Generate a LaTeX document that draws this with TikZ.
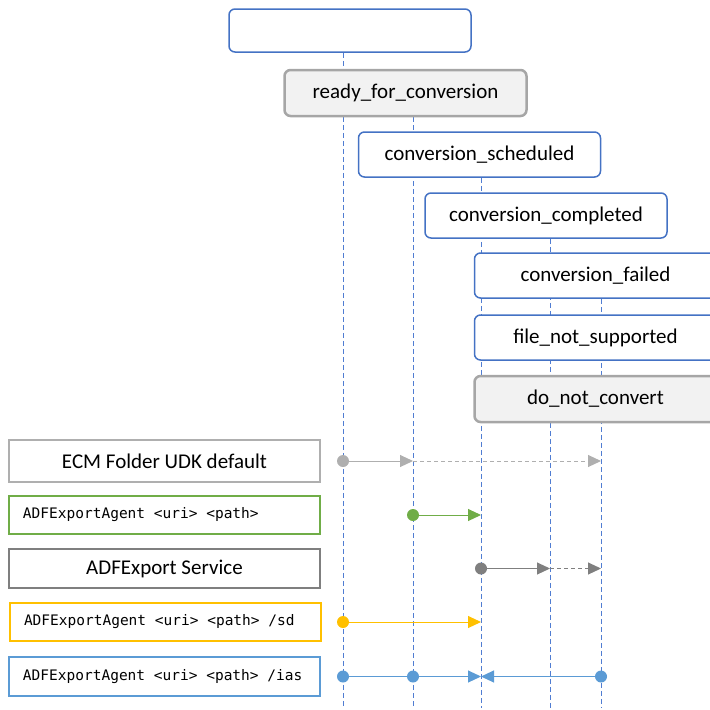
\documentclass[tikz,border=0pt]{standalone}
\usepackage{fontspec}
\setmainfont{Carlito}
\setmonofont{DejaVu Sans Mono}
\usepackage{xcolor}
\definecolor{stblue}{RGB}{68,114,196}
\definecolor{lineblue}{RGB}{80,125,210}
\definecolor{stgray}{RGB}{166,166,166}
\definecolor{stfill}{RGB}{242,242,242}
\definecolor{ecmgray}{RGB}{175,175,175}
\definecolor{svcgray}{RGB}{127,127,127}
\definecolor{agtgreen}{RGB}{112,173,71}
\definecolor{sdyellow}{RGB}{255,192,0}
\definecolor{iasblue}{RGB}{91,155,213}
\usetikzlibrary{arrows.meta, positioning, calc}
\pgfdeclarelayer{background}
\pgfsetlayers{background,main}
\newcommand{\cmdtext}[1]{\makebox[283pt][l]{#1}}

\begin{document}
\begin{tikzpicture}[x=1pt, y=-1pt,
  statebox/.style={draw=stblue, line width=1.5pt, fill=white, rounded corners=6pt,
    minimum width=242pt, minimum height=45pt, inner sep=0pt,
    font=\fontsize{21}{25}\selectfont},
  stategray/.style={statebox, draw=stgray, fill=stfill, line width=2.5pt},
  cmdbox/.style={draw, line width=2.5pt, fill=white, minimum width=311pt,
    minimum height=39pt, inner sep=0pt, font=\fontsize{21}{25}\selectfont},
  monobox/.style={cmdbox, inner xsep=14pt,
    font=\ttfamily\fontsize{14.5}{17}\selectfont},
  lifeline/.style={lineblue, line width=1pt, dash pattern=on 5pt off 3pt},
  msg/.style={line width=1pt, -{Triangle[length=13pt,width=12pt]}},
  msgdash/.style={msg, dash pattern=on 4pt off 3pt}
]
  \clip (0,0) rectangle (710,710);

  % States
  \node[statebox, minimum height=43pt] (top) at (350,30.5) {};
  \node[stategray, minimum height=46pt] (ready) at (405.5,93) {ready\_for\_conversion};
  \node[statebox] (sched) at (479.5,154.5) {conversion\_scheduled};
  \node[statebox] (compl) at (546,215.5) {conversion\_completed};
  \node[statebox] (failed) at (595.5,275.5) {conversion\_failed};
  \node[statebox] (notsup) at (595.5,337.5) {file\_not\_supported};
  \node[stategray, minimum height=46pt] (dnc) at (595.5,399) {do\_not\_convert};

  % Lifelines
  \coordinate (l1) at (343,708);
  \coordinate (l2) at (413,708);
  \coordinate (l3) at (481,708);
  \coordinate (l4) at (550,708);
  \coordinate (l5) at (601,708);
  \begin{pgfonlayer}{background}
    \draw[lifeline] (l1 |- top.south) -- (l1);
    \draw[lifeline] (l2 |- ready.south) -- (l2);
    \draw[lifeline] (l3 |- sched.south) -- (l3);
    \draw[lifeline] (l4 |- compl.south) -- (l4);
    \draw[lifeline] (l5 |- failed.south) -- (l5);
  \end{pgfonlayer}

  % Commands
  \node[cmdbox, draw=ecmgray, minimum height=42pt] (ecm) at (164.5,461) {ECM Folder UDK default};
  \node[monobox, draw=agtgreen, minimum height=38pt] (agent) at (164.5,515) {\cmdtext{ADFExportAgent <uri> <path>}};
  \node[cmdbox, draw=svcgray] (service) at (164.5,568.5) {ADFExport Service};
  \node[monobox, draw=sdyellow, minimum height=38pt] (sd) at (165.5,622) {\cmdtext{ADFExportAgent <uri> <path> /sd}};
  \node[monobox, draw=iasblue] (ias) at (164.5,676.5) {\cmdtext{ADFExportAgent <uri> <path> /ias}};

  % --- ECM Folder UDK default ---
  \draw[msg, ecmgray] (l1 |- ecm.east) -- (l2 |- ecm.east);
  \draw[msgdash, ecmgray] (l2 |- ecm.east) -- (l5 |- ecm.east);
  \fill[ecmgray] (l1 |- ecm.east) circle (6);

  % --- ADFExportAgent ---
  \draw[msg, agtgreen] (l2 |- agent.east) -- (l3 |- agent.east);
  \fill[agtgreen] (l2 |- agent.east) circle (6);

  % --- ADFExport Service ---
  \draw[msg, svcgray] (l3 |- service.east) -- (l4 |- service.east);
  \draw[msgdash, svcgray] (l4 |- service.east) -- (l5 |- service.east);
  \fill[svcgray] (l3 |- service.east) circle (6);

  % --- /sd ---
  \draw[msg, sdyellow] (l1 |- sd.east) -- (l3 |- sd.east);
  \fill[sdyellow] (l1 |- sd.east) circle (6);

  % --- /ias ---
  \draw[msg, iasblue] (l1 |- ias.east) -- (l3 |- ias.east);
  \draw[msg, iasblue] (l5 |- ias.east) -- (l3 |- ias.east);
  \fill[iasblue] (l1 |- ias.east) circle (6);
  \fill[iasblue] (l2 |- ias.east) circle (6);
  \fill[iasblue] (l5 |- ias.east) circle (6);
\end{tikzpicture}
\end{document}
